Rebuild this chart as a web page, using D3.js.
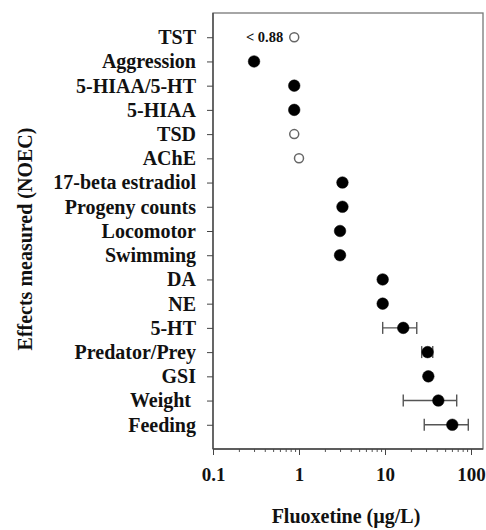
<!DOCTYPE html>
<html>
<head>
<meta charset="utf-8">
<script src="https://cdn.jsdelivr.net/npm/d3@7"></script>
<style>
  html, body { margin: 0; padding: 0; background: #fff; }
  svg { display: block; }
  text { font-family: "Liberation Serif", "Times New Roman", serif; font-weight: bold; fill: #111; white-space: pre; }
</style>
</head>
<body>
<svg id="chart" width="486" height="530"></svg>
<script>
// Endpoints, top to bottom
const effects = ["TST", "Aggression", "5-HIAA/5-HT", "5-HIAA", "TSD", "AChE",
  "17-beta estradiol", "Progeny counts", "Locomotor", "Swimming", "DA", "NE",
  "5-HT", "Predator/Prey", "GSI", "Weight ", "Feeding"];
// NOEC values (µg/L)
const noec = [0.88, 0.3, 0.88, 0.88, 0.88, 1.0, 3.2, 3.2, 3.0, 3.0, 9.4, 9.4,
  16.3, 31.3, 31.9, 41.7, 60.6];
// Whether the value is a censored / open-symbol estimate
const openMarker = [true, false, false, false, true, true, false, false, false,
  false, false, false, false, false, false, false, false];
// Range of reported NOECs (null where only one value)
const rangeLow  = [null, null, null, null, null, null, null, null, null, null,
  null, null, 9.4, 26.7, null, 16.3, 28.6];
const rangeHigh = [null, null, null, null, null, null, null, null, null, null,
  null, null, 23.4, 35.9, null, 68.2, 93];
const xTicks = [0.1, 1, 10, 100];
const noteText = "< 0.88";

const svg = d3.select("#chart");
const plotL = 213, plotR = 483, plotT = 13, plotB = 449;

const x = d3.scaleLog().domain([0.1, 150]).range([plotL, plotL + 86 * Math.log10(1500)]);
const y = d3.scalePoint().domain(effects).range([plotT, plotB]).padding(1);

// Frame
svg.append("rect")
  .attr("x", plotL).attr("y", plotT)
  .attr("width", plotR - plotL).attr("height", plotB - plotT)
  .attr("fill", "none").attr("stroke", "#777").attr("stroke-width", 1.3);

// X axis with log minor ticks
const minor = [];
for (let d = 0.1; d < 150; d *= 10) {
  for (let k = 2; k <= 9; k++) if (d * k <= 150) minor.push(d * k);
}
const xg = svg.append("g").attr("transform", `translate(0,${plotB})`);
xg.call(d3.axisBottom(x).tickValues(minor).tickSize(3).tickFormat(""));
xg.selectAll(".tick line").attr("stroke", "#555");
xg.select(".domain").remove();
const xg2 = svg.append("g").attr("transform", `translate(0,${plotB})`);
xg2.call(d3.axisBottom(x).tickValues(xTicks).tickSize(6).tickPadding(13)
  .tickFormat(d => d3.format("~g")(d)));
xg2.selectAll(".domain").attr("stroke", "#444").attr("stroke-width", 1.3)
  .attr("d", `M${plotL},0H${plotR}`);
xg2.selectAll(".tick line").attr("stroke", "#444");
xg2.selectAll(".tick text")
  .style("font-family", "'Liberation Serif', serif").style("font-weight", "bold")
  .style("font-size", "19px").attr("fill", "#111");

// Y axis
const yg = svg.append("g").attr("transform", `translate(${plotL},0)`);
yg.call(d3.axisLeft(y).tickSize(6).tickPadding(11));
yg.select(".domain").attr("stroke", "#444").attr("stroke-width", 1.3)
  .attr("d", `M0,${plotT}V${plotB}`);
yg.selectAll(".tick line").attr("stroke", "#444");
yg.selectAll(".tick text")
  .style("font-family", "'Liberation Serif', serif").style("font-weight", "bold")
  .style("font-size", "20px").style("white-space", "pre").attr("fill", "#111");

// Error bars
const rows = effects.map((e, i) => ({ e, v: noec[i], open: openMarker[i], lo: rangeLow[i], hi: rangeHigh[i] }));
const eb = svg.append("g").attr("stroke", "#555").attr("stroke-width", 1.4);
rows.filter(r => r.lo != null).forEach(r => {
  const cy = y(r.e);
  eb.append("line").attr("x1", x(r.lo)).attr("x2", x(r.hi)).attr("y1", cy).attr("y2", cy);
  eb.append("line").attr("x1", x(r.lo)).attr("x2", x(r.lo)).attr("y1", cy - 6).attr("y2", cy + 6);
  eb.append("line").attr("x1", x(r.hi)).attr("x2", x(r.hi)).attr("y1", cy - 6).attr("y2", cy + 6);
});

// Markers
svg.append("g").selectAll("circle").data(rows).join("circle")
  .attr("cx", d => x(d.v)).attr("cy", d => y(d.e))
  .attr("r", d => d.open ? 4.5 : 5.8)
  .attr("fill", d => d.open ? "#fff" : "#000")
  .attr("stroke", d => d.open ? "#666" : "#000")
  .attr("stroke-width", d => d.open ? 1.5 : 0.5);

// Censored-value note
svg.append("text")
  .attr("x", x(noec[0]) - 11).attr("y", y(effects[0]))
  .attr("dy", "0.35em").attr("text-anchor", "end")
  .style("font-size", "14.5px").text(noteText);

// Axis titles
svg.append("text")
  .attr("x", 346).attr("y", 523).attr("text-anchor", "middle")
  .style("font-size", "20px").text("Fluoxetine (µg/L)");
svg.append("text")
  .attr("transform", "translate(32,239) rotate(-90)")
  .attr("text-anchor", "middle")
  .style("font-size", "20px").text("Effects measured (NOEC)");
</script>
</body>
</html>
